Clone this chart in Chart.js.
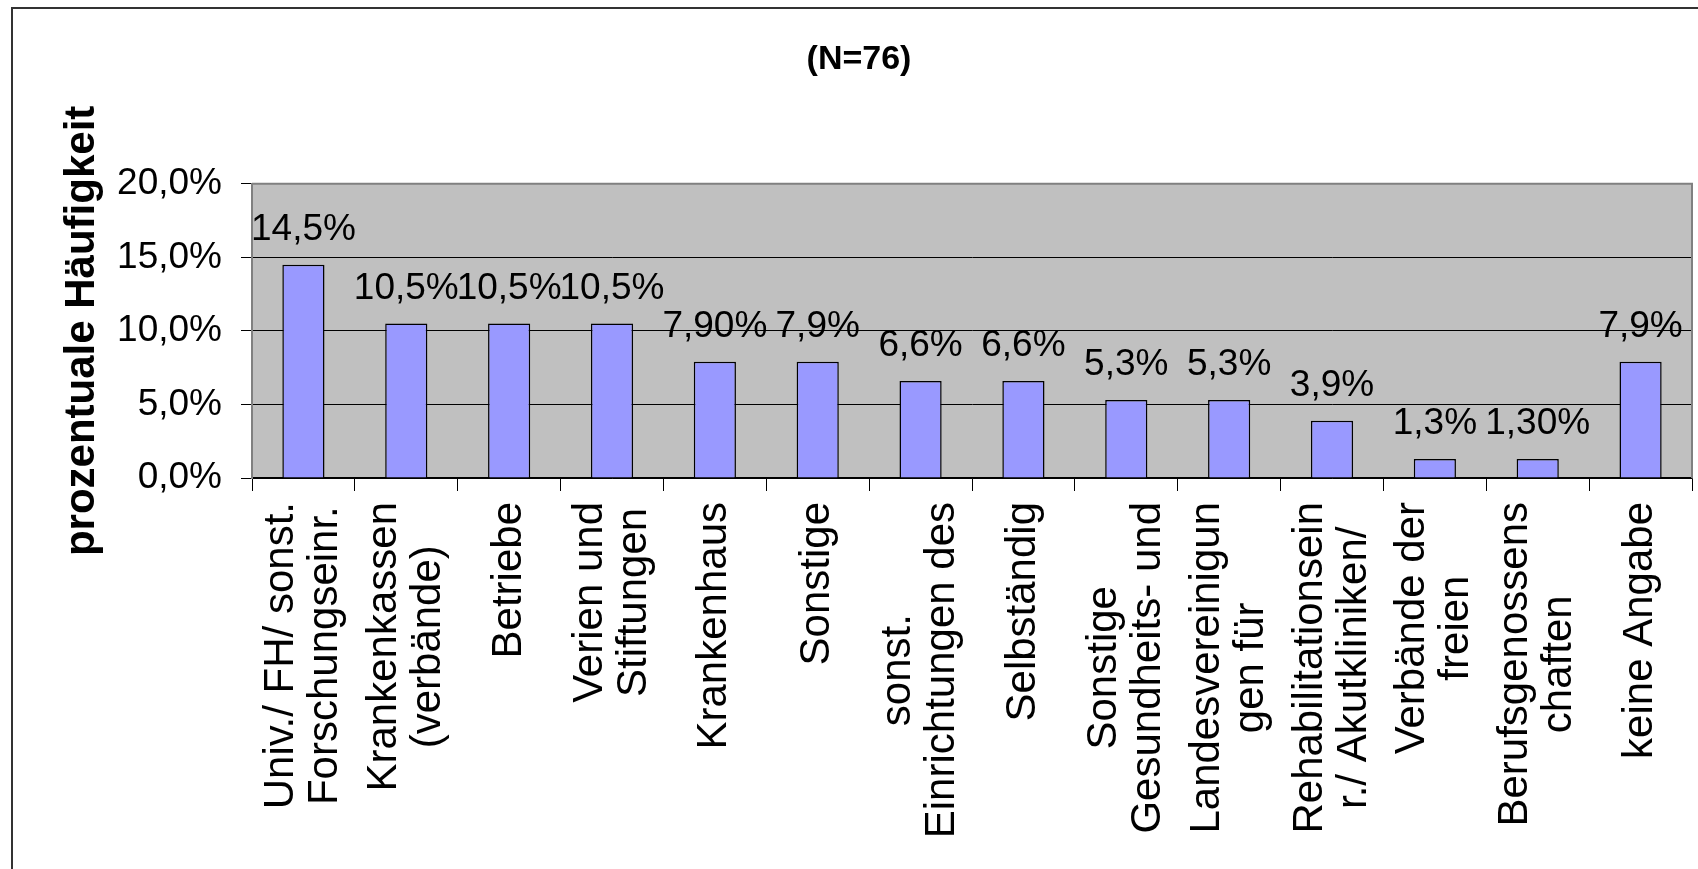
<!DOCTYPE html>
<html lang="de">
<head>
<meta charset="utf-8">
<title>Arbeitgeber (N=76)</title>
<script src="https://cdn.jsdelivr.net/npm/chart.js@4.4.1/dist/chart.umd.min.js"></script>
<style>
  html, body { margin: 0; padding: 0; background: #fff; overflow: hidden; }
  canvas { display: block; }
</style>
</head>
<body>
<canvas id="grafico" width="1698" height="869"></canvas>
<script>
// Daten
const kategorien = [
    ["Univ./ FH/ sonst.", "Forschungseinr."],
    ["Krankenkassen", "(verbände)"],
    ["Betriebe"],
    ["Verien und", "Stiftungen"],
    ["Krankenhaus"],
    ["Sonstige"],
    ["sonst.", "Einrichtungen des"],
    ["Selbständig"],
    ["Sonstige", "Gesundheits- und"],
    ["Landesvereinigun", "gen für"],
    ["Rehabilitationsein", "r./ Akutkliniken/"],
    ["Verbände der", "freien"],
    ["Berufsgenossens", "chaften"],
    ["keine Angabe"]
];
const werte = [14.5, 10.5, 10.5, 10.5, 7.9, 7.9, 6.6, 6.6, 5.3, 5.3, 3.9, 1.3, 1.3, 7.9];
const wertLabels = ["14,5%", "10,5%", "10,5%", "10,5%", "7,90%", "7,9%", "6,6%", "6,6%",
                    "5,3%", "5,3%", "3,9%", "1,3%", "1,30%", "7,9%"];
const yTickWerte = [0, 5, 10, 15, 20];
const yTickLabels = ["0,0%", "5,0%", "10,0%", "15,0%", "20,0%"];

const schrift = '"Liberation Sans", Arial, sans-serif';
Chart.defaults.font.family = schrift;
Chart.defaults.color = '#000';

// Hintergrund, äußerer Rahmen und graue Zeichenfläche
const rahmen = {
    id: 'rahmen',
    beforeDraw(chart) {
        const { ctx, chartArea: a } = chart;
        ctx.save();
        ctx.fillStyle = '#fff';
        ctx.fillRect(0, 0, chart.width, chart.height);
        ctx.strokeStyle = '#333';
        ctx.lineWidth = 2;
        ctx.strokeRect(12, 8, chart.width + 20, chart.height + 20);
        ctx.fillStyle = '#c0c0c0';
        ctx.fillRect(a.left, a.top, a.right - a.left, a.bottom - a.top);
        ctx.restore();
    },
    afterDatasetsDraw(chart) {
        const { ctx, chartArea: a } = chart;
        ctx.save();
        ctx.strokeStyle = '#808080';
        ctx.lineWidth = 2;
        ctx.beginPath();
        ctx.moveTo(a.left, a.top);
        ctx.lineTo(a.right, a.top);
        ctx.lineTo(a.right, a.bottom);
        ctx.stroke();
        ctx.restore();
    }
};

// Prozentwerte über den Balken
const balkenWerte = {
    id: 'balkenWerte',
    afterDatasetsDraw(chart) {
        const ctx = chart.ctx;
        const meta = chart.getDatasetMeta(0);
        ctx.save();
        ctx.font = '37px ' + schrift;
        ctx.fillStyle = '#000';
        ctx.textAlign = 'center';
        ctx.textBaseline = 'alphabetic';
        meta.data.forEach((bar, i) => {
            ctx.fillText(wertLabels[i], bar.x, bar.y - 25);
        });
        ctx.restore();
    }
};

// Kategorien senkrecht, Zeilen zueinander zentriert
const achsenText = {
    id: 'achsenText',
    afterDraw(chart) {
        const ctx = chart.ctx;
        const xs = chart.scales.x;
        const oben = xs.top + 24;
        ctx.save();
        ctx.font = '42px ' + schrift;
        ctx.fillStyle = '#000';
        ctx.textAlign = 'center';
        ctx.textBaseline = 'middle';
        kategorien.forEach((zeilen, i) => {
            const x = xs.getPixelForValue(i);
            const breite = Math.max(...zeilen.map(z => ctx.measureText(z).width));
            ctx.save();
            ctx.translate(x, oben);
            ctx.rotate(-Math.PI / 2);
            zeilen.forEach((z, j) => {
                ctx.fillText(z, -breite / 2, (j - (zeilen.length - 1) / 2) * 44);
            });
            ctx.restore();
        });
        ctx.restore();
    }
};

new Chart(document.getElementById('grafico'), {
    type: 'bar',
    data: {
        labels: kategorien,
        datasets: [{
            data: werte,
            backgroundColor: '#9999ff',
            borderColor: '#000',
            borderWidth: 1.5,
            barPercentage: 0.41,
            categoryPercentage: 1
        }]
    },
    options: {
        responsive: false,
        animation: false,
        layout: { padding: { left: 26, right: 6, top: 0, bottom: 0 } },
        plugins: {
            legend: { display: false },
            tooltip: { enabled: false },
            title: {
                display: true,
                text: '(N=76)',
                color: '#000',
                font: { size: 34, weight: 'bold', lineHeight: 1.2 },
                padding: { top: 39, bottom: 104 }
            }
        },
        scales: {
            x: {
                ticks: { display: false },
                grid: {
                    drawOnChartArea: false,
                    drawTicks: true,
                    tickLength: 13,
                    tickColor: '#000',
                    offset: true
                },
                border: { color: '#000', width: 1.5 },
                afterFit: (s) => { s.height = 391; }
            },
            y: {
                min: 0,
                max: 20,
                ticks: {
                    stepSize: 5,
                    padding: 19,
                    color: '#000',
                    font: { size: 37 },
                    callback: (v) => yTickLabels[yTickWerte.indexOf(v)]
                },
                grid: {
                    color: '#000',
                    lineWidth: 1,
                    tickLength: 11,
                    tickColor: '#000'
                },
                border: { color: '#808080', width: 2 },
                title: {
                    display: true,
                    text: 'prozentuale Häufigkeit',
                    color: '#000',
                    font: { size: 42, weight: 'bold', lineHeight: 1.2 },
                    padding: { top: 31, bottom: 0 }
                },
                afterFit: (s) => { s.width = 226; }
            }
        }
    },
    plugins: [rahmen, balkenWerte, achsenText]
});
</script>
</body>
</html>
